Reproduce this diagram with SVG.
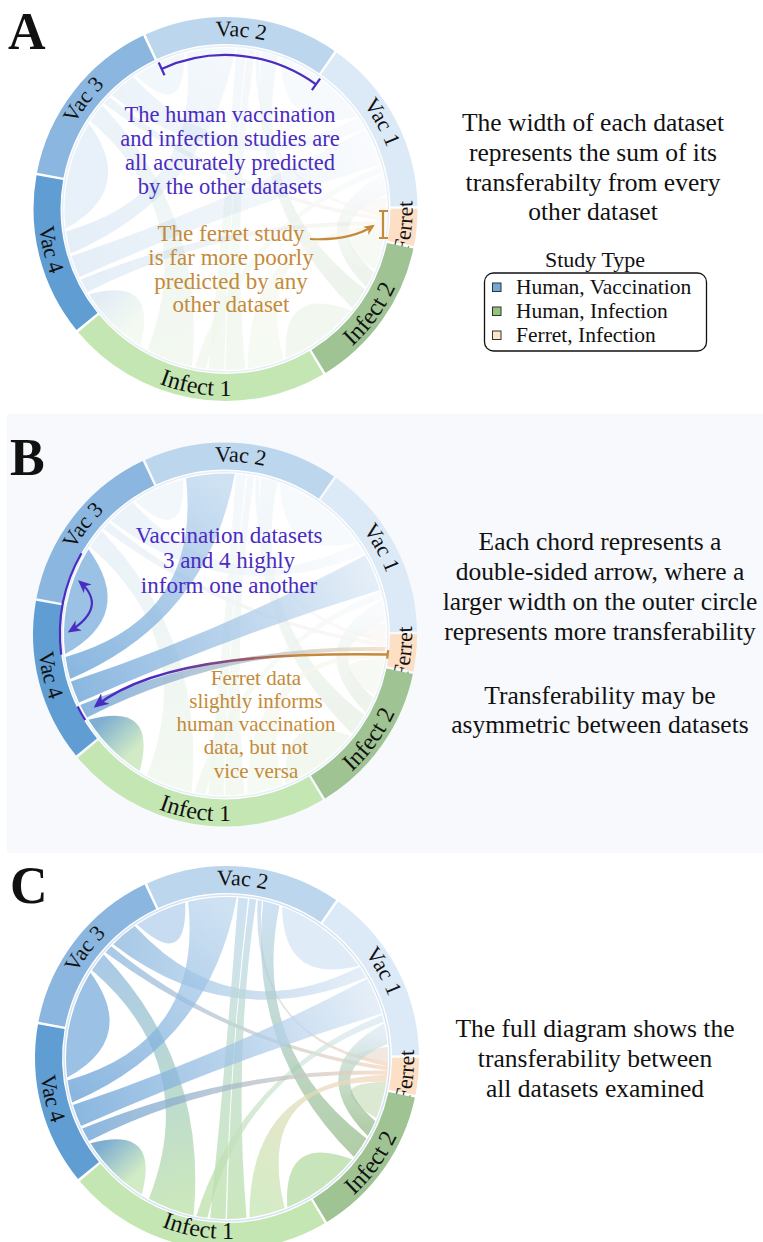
<svg xmlns="http://www.w3.org/2000/svg" width="763" height="1242" viewBox="0 0 763 1242">
<style>
.lbl{font-family:"Liberation Serif","Times New Roman",serif;font-size:22px;fill:#111;text-anchor:middle}
.big{font-size:24px}
.seg{fill:none;stroke-width:27}
.vac2{stroke:#bcd6ee}.vac1{stroke:#dce9f6}.fer{stroke:#fcdfc5}.inf2{stroke:#9fc392}.inf1{stroke:#c4e6b2}.vac4{stroke:#609dd3}.vac3{stroke:#8ab6df}
.ring{fill:none;stroke:#d6e4f2;stroke-width:1.5}
.ch{fill-opacity:.72}
.t{font-family:"Liberation Serif","Times New Roman",serif;font-size:25.5px;fill:#111;text-anchor:middle}
.pu{font-family:"Liberation Serif","Times New Roman",serif;font-size:22.5px;fill:#4a2cc0;text-anchor:middle}
.go{font-family:"Liberation Serif","Times New Roman",serif;font-size:23px;fill:#c48a3a;text-anchor:middle}
.gob{font-family:"Liberation Serif","Times New Roman",serif;font-size:21px;fill:#c48a3a;text-anchor:middle}
.let{font-family:"Liberation Serif","Times New Roman",serif;font-weight:bold;font-size:52px;fill:#111}
.leg{font-family:"Liberation Serif","Times New Roman",serif;font-size:21.5px;fill:#111}
.ap{fill:none;stroke:#4a2cc0;stroke-width:2.2}
.ag{fill:none;stroke:#c48a3a;stroke-width:2.2}
</style>
<defs>
<marker id="mG" viewBox="0 0 10 10" refX="8" refY="5" markerWidth="11" markerHeight="11" markerUnits="userSpaceOnUse" orient="auto"><path d="M0,0.5 L10,5 L0,9.5 L3,5Z" fill="#c48a3a"/></marker>
<marker id="mP" viewBox="0 0 10 10" refX="8" refY="5" markerWidth="13" markerHeight="13" markerUnits="userSpaceOnUse" orient="auto-start-reverse"><path d="M0,0.5 L10,5 L0,9.5 L3,5Z" fill="#4a2cc0"/></marker>
<marker id="mP2" viewBox="0 0 10 10" refX="8" refY="5" markerWidth="15" markerHeight="15" markerUnits="userSpaceOnUse" orient="auto"><path d="M0,0.5 L10,5 L0,9.5 L3,5Z" fill="#4a2cc0"/></marker>
<linearGradient id="gArr" gradientUnits="userSpaceOnUse" x1="387" y1="0" x2="96" y2="0"><stop offset="0" stop-color="#c48a3a"/><stop offset="0.3" stop-color="#c48a3a"/><stop offset="0.55" stop-color="#8a4a7a"/><stop offset="0.78" stop-color="#4a2cc0"/></linearGradient>
<linearGradient id="g4" gradientUnits="userSpaceOnUse" x1="-131" y1="93" x2="-100" y2="125"><stop offset="0" stop-color="#4d8fbf"/><stop offset="1" stop-color="#bfe3b0"/></linearGradient>
<linearGradient id="g8" gradientUnits="userSpaceOnUse" x1="-157" y1="33" x2="-15" y2="-158"><stop offset="0" stop-color="#5e9bd3"/><stop offset="1" stop-color="#bcd6ee"/></linearGradient>
<linearGradient id="g9" gradientUnits="userSpaceOnUse" x1="-103" y1="-123" x2="136" y2="-86"><stop offset="0" stop-color="#88b5de"/><stop offset="1" stop-color="#dbe8f5"/></linearGradient>
<linearGradient id="g10" gradientUnits="userSpaceOnUse" x1="-150" y1="58" x2="146" y2="-62"><stop offset="0" stop-color="#5e9bd3"/><stop offset="1" stop-color="#dbe8f5"/></linearGradient>
<linearGradient id="g11" gradientUnits="userSpaceOnUse" x1="-141" y1="77" x2="160" y2="15"><stop offset="0" stop-color="#5e9bd3"/><stop offset="1" stop-color="#f4d5bb"/></linearGradient>
<linearGradient id="g12" gradientUnits="userSpaceOnUse" x1="-118" y1="-108" x2="160" y2="10"><stop offset="0" stop-color="#88b5de"/><stop offset="1" stop-color="#f4d5bb"/></linearGradient>
<linearGradient id="g13" gradientUnits="userSpaceOnUse" x1="33" y1="-157" x2="160" y2="6"><stop offset="0" stop-color="#bcd6ee"/><stop offset="1" stop-color="#f4d5bb"/></linearGradient>
<linearGradient id="g14" gradientUnits="userSpaceOnUse" x1="-55" y1="150" x2="-129" y2="-96"><stop offset="0" stop-color="#b7dea3"/><stop offset="1" stop-color="#88b5de"/></linearGradient>
<linearGradient id="g15" gradientUnits="userSpaceOnUse" x1="0" y1="161" x2="0" y2="-160"><stop offset="0" stop-color="#b7dea3"/><stop offset="1" stop-color="#bcd6ee"/></linearGradient>
<linearGradient id="g17" gradientUnits="userSpaceOnUse" x1="156" y1="-40" x2="-25" y2="159"><stop offset="0" stop-color="#dbe8f5"/><stop offset="1" stop-color="#b7dea3"/></linearGradient>
<linearGradient id="g18" gradientUnits="userSpaceOnUse" x1="44" y1="-155" x2="133" y2="90"><stop offset="0" stop-color="#bcd6ee"/><stop offset="1" stop-color="#93bb86"/></linearGradient>
<linearGradient id="g19" gradientUnits="userSpaceOnUse" x1="158" y1="-26" x2="144" y2="70"><stop offset="0" stop-color="#dbe8f5"/><stop offset="1" stop-color="#93bb86"/></linearGradient>
<linearGradient id="g20" gradientUnits="userSpaceOnUse" x1="160" y1="20" x2="40" y2="155"><stop offset="0" stop-color="#f4d5bb"/><stop offset="1" stop-color="#c3e5b0"/></linearGradient>
<path id="lp-vac2" d="M-99.2,-141.7 A173 173 0 0 1 122.3,-122.3"/>
<path id="lp-vac1" d="M62,-161.5 A173 173 0 0 1 169.8,33"/>
<path id="lp-vac3" d="M-172.8,7.5 A173 173 0 0 1 -37.4,-168.9"/>
<path id="lp-fer" d="M131.1,133.4 A187 187 0 0 0 154.1,-105.9"/>
<path id="lp-inf2" d="M45.2,181.4 A187 187 0 0 0 186.6,-13.1"/>
<path id="lp-inf1" d="M-142.2,121.4 A187 187 0 0 0 94.9,161.1"/>
<path id="lp-inf1c" d="M-137.6,117.5 A181 181 0 0 0 91.9,155.9"/>
<path id="lp-vac4" d="M-166.6,-84.9 A187 187 0 0 0 -112.5,149.3"/>
<g id="chA">
<path class="ch" fill="#b3cfeb" d="M-90,-133.5 A161 161 0 0 1 -69.3,-145.3 L-65.5,-147.1 A161 161 0 0 1 -41.7,-155.5 Q-39.5,-86.7 -90,-133.5Z"/>
<path class="ch" fill="#d2e3f3" d="M55.1,-151.3 A161 161 0 0 1 91.2,-132.7 L93.5,-131.1 A161 161 0 0 1 131.9,-92.3 Q56.1,-73.1 55.1,-151.3Z"/>
<path class="ch" fill="#b2d9a1" d="M125.1,101.3 A161 161 0 0 1 84.1,137.3 L81.7,138.7 A161 161 0 0 1 60.3,149.3 Q55.6,75.2 125.1,101.3Z"/>
<path class="ch" fill="#cddfc0" d="M159.2,23.8 A161 161 0 0 1 158,30.7 L157.5,33.5 A161 161 0 0 1 149.3,60.3 Q92.6,25.2 159.2,23.8Z"/>
<path class="ch" fill="#eadfd6" d="M160.6,-11.2 A161 161 0 0 1 161,-2.8 L161,0 A161 161 0 0 1 160.9,4.2 Q96.5,-2.1 160.6,-11.2Z"/>
<path class="ch" fill="url(#g9)" d="M-113.8,-113.8 A161 161 0 0 1 -92.3,-131.9 Q4.8,-26.8 132.7,-91.2 A161 161 0 0 1 139.4,-80.5 Q3.1,-23.3 -113.8,-113.8Z"/>
<path class="ch" fill="url(#g12)" d="M160.8,8.4 A161 161 0 0 1 160.5,12.6 Q4.7,-11.2 -121.5,-105.6 A161 161 0 0 1 -115.8,-111.8 Q5.4,-12.4 160.8,8.4Z"/>
<path class="ch" fill="url(#g13)" d="M30.7,-158 A161 161 0 0 1 34.8,-157.2 Q23.5,-18.4 160.9,4.2 A161 161 0 0 1 160.8,8.4 Q23,-18 30.7,-158Z"/>
<path class="ch" fill="url(#g14)" d="M-33.5,157.5 A161 161 0 0 1 -78.1,140.8 Q-25.6,6.4 -135,-87.7 A161 161 0 0 1 -123.3,-103.5 Q-18.8,6.5 -33.5,157.5Z"/>
<path class="ch" fill="url(#g15)" d="M-1.4,161 A161 161 0 0 1 -16.8,160.1 Q-0.7,-0.1 11.2,-160.6 A161 161 0 0 1 21,-159.6 Q2.4,0.2 -1.4,161Z"/>
<path class="ch" fill="url(#g15)" d="M19.6,159.8 A161 161 0 0 1 0,161 Q2.7,0.2 22.4,-159.4 A161 161 0 0 1 29.3,-158.3 Q5.9,0.2 19.6,159.8Z"/>
<path class="ch" fill="url(#g17)" d="M155.1,-43 A161 161 0 0 1 156.9,-36.2 Q16.5,14.8 -19.6,159.8 A161 161 0 0 1 -30.7,158 Q14.9,13.8 155.1,-43Z"/>
<path class="ch" fill="url(#g18)" d="M36.2,-156.9 A161 161 0 0 1 52.4,-152.2 Q23,-8.6 139.4,80.5 A161 161 0 0 1 126.9,99.1 Q19.6,-6.9 36.2,-156.9Z"/>
<path class="ch" fill="url(#g19)" d="M157.2,-34.8 A161 161 0 0 1 160.4,-14 Q92.6,14.7 148.2,62.9 A161 161 0 0 1 140.8,78.1 Q74.5,10.8 157.2,-34.8Z"/>
<path class="ch" fill="url(#g20)" d="M160.1,16.8 A161 161 0 0 1 159.2,23.8 Q26,20.9 57.7,150.3 A161 161 0 0 1 22.4,159.4 Q21.9,21.1 160.1,16.8Z"/>
</g>
<g id="chB">
<path class="ch" fill="#75aadb" d="M-159.8,19.6 A161 161 0 0 1 -158.6,-28 L-158,-30.7 A161 161 0 0 1 -136.5,-85.3 Q-88.9,-19.7 -159.8,19.6Z"/>
<path class="ch" fill="url(#g4)" d="M-85.3,136.5 A161 161 0 0 1 -123.3,103.5 L-125.1,101.3 A161 161 0 0 1 -136.5,85.3 Q-66.5,66.5 -85.3,136.5Z"/>
<path class="ch" fill="url(#g8)" d="M-154.8,44.4 A161 161 0 0 1 -159.4,22.4 Q-23.8,-16.1 -38.9,-156.2 A161 161 0 0 1 9.8,-160.7 Q-17.4,-14 -154.8,44.4Z"/>
<path class="ch" fill="url(#g10)" d="M-145.9,68 A161 161 0 0 1 -154,47.1 Q-1.7,-3.9 140.1,-79.3 A161 161 0 0 1 154.8,-44.4 Q1.1,2.8 -145.9,68Z"/>
<path class="ch" fill="url(#g11)" d="M160.5,12.6 A161 161 0 0 1 160.1,16.8 Q2.7,12 -138,82.9 A161 161 0 0 1 -144.7,70.6 Q1.9,10 160.5,12.6Z"/>
</g>
</defs>
<rect width="763" height="1242" fill="#fff"/>
<rect id="panel-b-bg" x="7" y="414" width="756" height="439" fill="#f7f9fc"/>

<!-- Panel A -->
<text class="let" x="8" y="49">A</text>
<g id="panel-a" transform="translate(225.5,209)">
  <g id="a-connectors"><use href="#chA" opacity=".22"/><use href="#chB" opacity=".22"/></g>
  <circle class="ring" r="163" opacity=".6"/>
  <g id="a-vac2"><path class="seg vac2" d="M-74.3,-162.3 A178.5 178.5 0 0 1 101.4,-146.9"/><text class="lbl"><textPath href="#lp-vac2" startOffset="50%">Vac 2</textPath></text></g>
  <g id="a-vac1"><path class="seg vac1" d="M103.4,-145.5 A178.5 178.5 0 0 1 178.5,-2.8"/><text class="lbl"><textPath href="#lp-vac1" startOffset="50%">Vac 1</textPath></text></g>
  <g id="a-ferret"><path class="seg fer" d="M178.5,-0.3 A178.5 178.5 0 0 1 175.2,34.4"/><text class="lbl"><textPath href="#lp-fer" startOffset="50%">Ferret</textPath></text></g>
  <g id="a-infect2"><path class="seg inf2" d="M174.7,36.8 A178.5 178.5 0 0 1 93,152.4"/><text class="lbl big"><textPath href="#lp-inf2" startOffset="50%">Infect 2</textPath></text></g>
  <g id="a-infect1"><path class="seg inf1" d="M90.9,153.6 A178.5 178.5 0 0 1 -136.9,114.5"/><text class="lbl big"><textPath href="#lp-inf1" startOffset="50%">Infect 1</textPath></text></g>
  <g id="a-vac4"><path class="seg vac4" d="M-138.5,112.6 A178.5 178.5 0 0 1 -175.7,-31.3"/><text class="lbl"><textPath href="#lp-vac4" startOffset="50%">Vac 4</textPath></text></g>
  <g id="a-vac3"><path class="seg vac3" d="M-175.3,-33.8 A178.5 178.5 0 0 1 -76.6,-161.2"/><text class="lbl"><textPath href="#lp-vac3" startOffset="50%">Vac 3</textPath></text></g>
  <path class="ap" d="M-63.9,-140.1 A154 154 0 0 1 90.5,-124.6 M-61,-133.8 L-66.8,-146.5 M86.4,-118.9 L94.6,-130.3"/>
</g>
<g id="a-notes">
  <text class="pu" x="230" y="122">The human vaccination</text>
  <text class="pu" x="230" y="146">and infection studies are</text>
  <text class="pu" x="230" y="170">all accurately predicted</text>
  <text class="pu" x="230" y="194">by the other datasets</text>
  <text class="go" x="231" y="241">The ferret study</text>
  <text class="go" x="231" y="265">is far more poorly</text>
  <text class="go" x="231" y="288.5">predicted by any</text>
  <text class="go" x="231" y="312">other dataset</text>
  <path class="ag" d="M310,239 Q350,241 373,226" marker-end="url(#mG)"/>
  <path class="ag" d="M383,211 L383,238 M379,211 L388,211 M379,238 L388,238"/>
  <text class="t" x="593" y="131">The width of each dataset</text>
  <text class="t" x="593" y="161">represents the sum of its</text>
  <text class="t" x="593" y="190.5">transferabilty from every</text>
  <text class="t" x="593" y="220">other dataset</text>
</g>
<g id="legend">
  <text class="t" x="595" y="267" style="font-size:22px">Study Type</text>
  <rect x="484.5" y="273" width="222" height="78" rx="9" fill="#fff" stroke="#111" stroke-width="1.3"/>
  <rect x="492.5" y="283" width="8.5" height="8.5" fill="#6fa8dc" stroke="#333" stroke-width="1"/>
  <text class="leg" x="516" y="294">Human, Vaccination</text>
  <rect x="492.5" y="307" width="8.5" height="8.5" fill="#93c47d" stroke="#333" stroke-width="1"/>
  <text class="leg" x="516" y="318">Human, Infection</text>
  <rect x="492.5" y="331" width="8.5" height="8.5" fill="#fce5cd" stroke="#333" stroke-width="1"/>
  <text class="leg" x="516" y="342">Ferret, Infection</text>
</g>

<!-- Panel B -->
<text class="let" x="10" y="475">B</text>
<g id="panel-b" transform="translate(225,634.5)">
  <circle r="165" fill="#fff"/>
  <g id="b-connectors"><use href="#chA" opacity=".22"/><use href="#chB"/></g>
  <circle class="ring" r="163" opacity=".6"/>
  <g id="b-vac2"><path class="seg vac2" d="M-74.3,-162.3 A178.5 178.5 0 0 1 101.4,-146.9"/><text class="lbl"><textPath href="#lp-vac2" startOffset="50%">Vac 2</textPath></text></g>
  <g id="b-vac1"><path class="seg vac1" d="M103.4,-145.5 A178.5 178.5 0 0 1 178.5,-2.8"/><text class="lbl"><textPath href="#lp-vac1" startOffset="50%">Vac 1</textPath></text></g>
  <g id="b-ferret"><path class="seg fer" d="M178.5,-0.3 A178.5 178.5 0 0 1 175.2,34.4"/><text class="lbl"><textPath href="#lp-fer" startOffset="50%">Ferret</textPath></text></g>
  <g id="b-infect2"><path class="seg inf2" d="M174.7,36.8 A178.5 178.5 0 0 1 93,152.4"/><text class="lbl big"><textPath href="#lp-inf2" startOffset="50%">Infect 2</textPath></text></g>
  <g id="b-infect1"><path class="seg inf1" d="M90.9,153.6 A178.5 178.5 0 0 1 -136.9,114.5"/><text class="lbl big"><textPath href="#lp-inf1" startOffset="50%">Infect 1</textPath></text></g>
  <g id="b-vac4"><path class="seg vac4" d="M-138.5,112.6 A178.5 178.5 0 0 1 -175.7,-31.3"/><text class="lbl"><textPath href="#lp-vac4" startOffset="50%">Vac 4</textPath></text></g>
  <g id="b-vac3"><path class="seg vac3" d="M-175.3,-33.8 A178.5 178.5 0 0 1 -76.6,-161.2"/><text class="lbl"><textPath href="#lp-vac3" startOffset="50%">Vac 3</textPath></text></g>
  <path class="ap" d="M-163.8,20.1 A165 165 0 0 1 -143.6,-81.2"/>
  <path class="ap" d="M-139.8,85.7 A164 164 0 0 1 -147.4,71.9"/>
</g>
<g id="b-notes">
  <path class="ap" stroke-width="2.6" d="M80,582 Q108,607 70,631" marker-start="url(#mP)" marker-end="url(#mP)"/>
  <path class="ag" d="M388.2,650.2 L387.2,658.7"/>
  <path fill="none" stroke="url(#gArr)" stroke-width="2.6" d="M387,654.5 C300,653 160,655 96,706" marker-end="url(#mP2)"/>
  <text class="pu" x="229" y="543" style="font-size:23px">Vaccination datasets</text>
  <text class="pu" x="229" y="568" style="font-size:23px">3 and 4 highly</text>
  <text class="pu" x="229" y="592.5" style="font-size:23px">inform one another</text>
  <text class="gob" x="256" y="684.5">Ferret data</text>
  <text class="gob" x="256" y="707.8">slightly informs</text>
  <text class="gob" x="256" y="731.1">human vaccination</text>
  <text class="gob" x="256" y="754.4">data, but not</text>
  <text class="gob" x="256" y="777.7">vice versa</text>
  <text class="t" x="600" y="550">Each chord represents a</text>
  <text class="t" x="600" y="580">double-sided arrow, where a</text>
  <text class="t" x="600" y="610">larger width on the outer circle</text>
  <text class="t" x="600" y="640">represents more transferability</text>
  <text class="t" x="600" y="704">Transferability may be</text>
  <text class="t" x="600" y="733">asymmetric between datasets</text>
</g>

<!-- Panel C -->
<text class="let" x="10" y="903">C</text>
<g id="panel-c" transform="translate(227,1058)">
  <g id="c-connectors"><use href="#chA"/><use href="#chB"/></g>
  <circle class="ring" r="163"/>
  <g id="c-vac2"><path class="seg vac2" d="M-74.3,-162.3 A178.5 178.5 0 0 1 101.4,-146.9"/><text class="lbl"><textPath href="#lp-vac2" startOffset="50%">Vac 2</textPath></text></g>
  <g id="c-vac1"><path class="seg vac1" d="M103.4,-145.5 A178.5 178.5 0 0 1 178.5,-2.8"/><text class="lbl"><textPath href="#lp-vac1" startOffset="50%">Vac 1</textPath></text></g>
  <g id="c-ferret"><path class="seg fer" d="M178.5,-0.3 A178.5 178.5 0 0 1 175.2,34.4"/><text class="lbl"><textPath href="#lp-fer" startOffset="50%">Ferret</textPath></text></g>
  <g id="c-infect2"><path class="seg inf2" d="M174.7,36.8 A178.5 178.5 0 0 1 93,152.4"/><text class="lbl big"><textPath href="#lp-inf2" startOffset="50%">Infect 2</textPath></text></g>
  <g id="c-infect1"><path class="seg inf1" d="M90.9,153.6 A178.5 178.5 0 0 1 -136.9,114.5"/><text class="lbl big"><textPath href="#lp-inf1c" startOffset="50%">Infect 1</textPath></text></g>
  <g id="c-vac4"><path class="seg vac4" d="M-138.5,112.6 A178.5 178.5 0 0 1 -175.7,-31.3"/><text class="lbl"><textPath href="#lp-vac4" startOffset="50%">Vac 4</textPath></text></g>
  <g id="c-vac3"><path class="seg vac3" d="M-175.3,-33.8 A178.5 178.5 0 0 1 -76.6,-161.2"/><text class="lbl"><textPath href="#lp-vac3" startOffset="50%">Vac 3</textPath></text></g>
</g>
<g id="c-notes">
  <text class="t" x="595" y="1037">The full diagram shows the</text>
  <text class="t" x="595" y="1067">transferability between</text>
  <text class="t" x="595" y="1097">all datasets examined</text>
</g>
</svg>
